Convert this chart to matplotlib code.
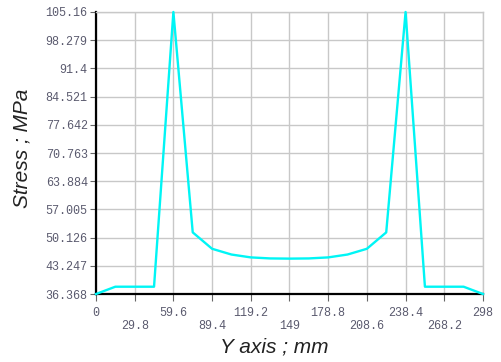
import matplotlib
matplotlib.use('Agg')
import matplotlib.pyplot as plt
import numpy as np

# Datos
y_pos = [0, 14.9, 29.8, 44.7, 59.6, 74.5, 89.4, 104.3, 119.2, 134.1, 149,
         163.9, 178.8, 193.7, 208.6, 223.5, 238.4, 253.3, 268.2, 283.1, 298]
stress = [36.368, 38.15, 38.15, 38.15, 105.16, 51.4, 47.4, 46.0, 45.3, 45.05, 45.0,
          45.05, 45.3, 46.0, 47.4, 51.4, 105.16, 38.15, 38.15, 38.15, 36.368]

x_ticks = [0, 29.8, 59.6, 89.4, 119.2, 149, 178.8, 208.6, 238.4, 268.2, 298]
x_labels = ['0', '29.8', '59.6', '89.4', '119.2', '149', '178.8', '208.6', '238.4', '268.2', '298']
y_ticks = [36.368, 43.247, 50.126, 57.005, 63.884, 70.763, 77.642, 84.521, 91.4, 98.279, 105.16]
y_labels = ['36.368', '43.247', '50.126', '57.005', '63.884', '70.763', '77.642', '84.521', '91.4', '98.279', '105.16']

fig = plt.figure(figsize=(5.01, 3.62), dpi=100)
ax = fig.add_axes([0.1916, 0.1878, 0.7724, 0.7791])

ax.plot(y_pos, stress, color='#00f5f5', lw=1.7, clip_on=False, zorder=3)

ax.set_xlim(0, 298)
ax.set_ylim(36.368, 105.16)

# Etiquetas del eje x en dos filas alternadas
ax.set_xticks(x_ticks)
ax.set_xticklabels([l if i % 2 == 0 else '\n' + l for i, l in enumerate(x_labels)])
ax.set_yticks(y_ticks)
ax.set_yticklabels(y_labels)

tick_color = '#5a5a6e'
for lab in ax.get_xticklabels() + ax.get_yticklabels():
    lab.set_family('Liberation Mono')
    lab.set_fontsize(8.5)
    lab.set_color(tick_color)
ax.tick_params(axis='x', length=5, pad=4, color='#666666', direction='out')
ax.tick_params(axis='y', length=4, pad=2, color='#666666', direction='out')

ax.grid(True, color='#c8c8c8', lw=1)
ax.set_axisbelow(True)
for s in ['top', 'right']:
    ax.spines[s].set_color('#c8c8c8')
    ax.spines[s].set_linewidth(1)
for s in ['left', 'bottom']:
    ax.spines[s].set_color('black')
    ax.spines[s].set_linewidth(1.6)

# Titulos de ejes colocados a mano
fig.text(274 / 501, 1 - 347 / 362, 'Y axis ; mm', family='Liberation Sans', style='italic',
         fontsize=15, color='#222222', ha='center', va='center')
fig.text(22 / 501, 1 - 148 / 362, 'Stress ; MPa', family='Liberation Sans', style='italic',
         fontsize=15, color='#222222', ha='center', va='center', rotation=90)

fig.savefig('out.png', dpi=100)
